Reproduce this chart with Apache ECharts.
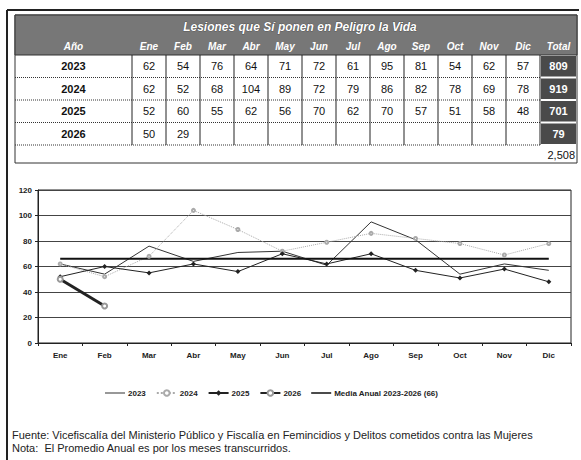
<!DOCTYPE html>
<html>
<head>
<meta charset="utf-8">
<script src="https://cdn.jsdelivr.net/npm/echarts@6/dist/echarts.min.js"></script>
<style>
html,body{margin:0;padding:0;background:#fff;}
#chart{width:581px;height:460px;}
</style>
</head>
<body>
<div id="chart"></div>
<script>
// ---- data ----
const tableTitle = 'Lesiones que Sí ponen en Peligro la Vida';
const yearHeader = 'Año';
const totalHeader = 'Total';
const months = ['Ene','Feb','Mar','Abr','May','Jun','Jul','Ago','Sep','Oct','Nov','Dic'];
const years = ['2023','2024','2025','2026'];
const s2023 = [62,54,76,64,71,72,61,95,81,54,62,57];
const s2024 = [62,52,68,104,89,72,79,86,82,78,69,78];
const s2025 = [52,60,55,62,56,70,62,70,57,51,58,48];
const s2026 = [50,29,null,null,null,null,null,null,null,null,null,null];
const totals = ['809','919','701','79'];
const grandTotal = '2,508';
const avgName = 'Media Anual 2023-2026 (66)';
const avgValues = [66,66,66,66,66,66,66,66,66,66,66,66];
const yMin = 0, yMax = 120, yStep = 20;
const sourceText = 'Fuente: Vicefiscalía del Ministerio Público y Fiscalía en Femincidios y Delitos cometidos contra las Mujeres';
const noteText = 'Nota:  El Promedio Anual es por los meses transcurridos.';

// ---- layout ----
const FONT = '"Liberation Sans", Arial, sans-serif';
const T = {x0:15, x1:577, yearW:117, colW:34, titleY:15, titleH:22, headY:37, headH:18, rowY:55, rowH:22.5, bottom:163};
const rows = [s2023, s2024, s2025, s2026];
const g = [];
const lineIcon = 'path://M0,0L30,0L30,0.01L0,0.01Z M0,4.4L30,4.4L30,5.6L0,5.6Z M0,9.99L30,9.99L30,10L0,10Z';
const thickIcon = 'path://M0,0L30,0L30,0.01L0,0.01Z M0,4L30,4L30,6L0,6Z M0,9.99L30,9.99L30,10L0,10Z';

// outer frame
g.push({type:'line', shape:{x1:7,y1:10,x2:7,y2:460}, style:{stroke:'#222',lineWidth:2}});
g.push({type:'line', shape:{x1:7,y1:10,x2:579,y2:10}, style:{stroke:'#222',lineWidth:2}});
// table frame
g.push({type:'rect', shape:{x:T.x0,y:T.titleY,width:T.x1-T.x0,height:T.bottom-T.titleY}, style:{fill:'#fff',stroke:'#333',lineWidth:1}});
// title + header band
g.push({type:'rect', shape:{x:T.x0,y:T.titleY,width:T.x1-T.x0,height:T.titleH+T.headH}, style:{fill:'#777',stroke:'#333',lineWidth:1}});
g.push({type:'text', style:{text:tableTitle, x:300, y:T.titleY+T.titleH/2+1, align:'center', verticalAlign:'middle', font:'italic bold 12px '+FONT, fill:'#fff', stroke:'#333', lineWidth:0.6}});
const colStart = T.x0 + T.yearW;
const totalX = colStart + 12*T.colW;
const hy = T.headY + T.headH/2;
g.push({type:'text', style:{text:yearHeader, x:T.x0+T.yearW/2, y:hy, align:'center', verticalAlign:'middle', font:'italic bold 10px '+FONT, fill:'#fff'}});
months.forEach((m,i)=>{
  g.push({type:'text', style:{text:m, x:colStart+i*T.colW+T.colW/2, y:hy, align:'center', verticalAlign:'middle', font:'italic bold 10px '+FONT, fill:'#fff'}});
});
g.push({type:'text', style:{text:totalHeader, x:(totalX+T.x1)/2, y:hy, align:'center', verticalAlign:'middle', font:'italic bold 10px '+FONT, fill:'#fff'}});
// rows
rows.forEach((vals,r)=>{
  const y = T.rowY + r*T.rowH;
  const cy = y + T.rowH/2;
  g.push({type:'line', shape:{x1:T.x0,y1:y+T.rowH,x2:totalX,y2:y+T.rowH}, style:{stroke:'#333',lineWidth:1,lineDash:[1,1]}});
  g.push({type:'text', style:{text:years[r], x:T.x0+T.yearW/2, y:cy, align:'center', verticalAlign:'middle', font:'bold 11px '+FONT, fill:'#111'}});
  for(let i=0;i<=12;i++){
    const x = colStart+i*T.colW;
    g.push({type:'line', shape:{x1:x,y1:y,x2:x,y2:y+T.rowH}, style:{stroke:'#222',lineWidth:1}});
  }
  vals.forEach((v,i)=>{
    if(v===null) return;
    g.push({type:'text', style:{text:String(v), x:colStart+i*T.colW+T.colW/2, y:cy, align:'center', verticalAlign:'middle', font:'11px '+FONT, fill:'#111'}});
  });
  g.push({type:'rect', shape:{x:totalX+1,y:y+1,width:T.x1-totalX-2,height:T.rowH-2}, style:{fill:'#4a4a4a'}});
  g.push({type:'text', style:{text:totals[r], x:(totalX+T.x1)/2, y:cy, align:'center', verticalAlign:'middle', font:'bold 11px '+FONT, fill:'#fff'}});
});
// grand total
g.push({type:'text', style:{text:grandTotal, x:T.x1-2, y:(T.rowY+4*T.rowH+T.bottom)/2+1, align:'right', verticalAlign:'middle', font:'11px '+FONT, fill:'#111'}});
// footnotes
g.push({type:'text', style:{text:sourceText, x:12, y:435, align:'left', verticalAlign:'middle', font:'11px '+FONT, fill:'#222'}});
g.push({type:'text', style:{text:noteText, x:12, y:448, align:'left', verticalAlign:'middle', font:'11px '+FONT, fill:'#222'}});

const chart = echarts.init(document.getElementById('chart'), null, {renderer:'svg'});
chart.setOption({
  animation:false,
  backgroundColor:'#fff',
  grid:{left:38, right:10, top:190, bottom:117, show:true, borderColor:'#222', borderWidth:1, containLabel:false},
  xAxis:{type:'category', data:months, boundaryGap:true,
    axisLine:{lineStyle:{color:'#222'}},
    axisTick:{show:true, length:3, lineStyle:{color:'#222'}},
    axisLabel:{color:'#222', fontSize:8, fontWeight:'bold', fontFamily:FONT, margin:8}},
  yAxis:{type:'value', min:yMin, max:yMax, interval:yStep,
    axisLine:{show:true, lineStyle:{color:'#222'}},
    axisTick:{show:true, length:3, lineStyle:{color:'#222'}},
    axisLabel:{color:'#222', fontSize:8, fontWeight:'bold', fontFamily:FONT, margin:6},
    splitLine:{lineStyle:{color:'#444', width:1}}},
  legend:{top:384, left:100, itemGap:10, itemWidth:20, itemHeight:7,
    textStyle:{color:'#222', fontSize:8, fontWeight:'bold', fontFamily:FONT, padding:[0,0,0,-2]},
    data:[{name:'2023', icon:lineIcon, itemStyle:{color:'#333'}},'2024','2025','2026',{name:avgName, icon:thickIcon, itemStyle:{color:'#111'}}]},
  series:[
    {name:'2023', type:'line', data:s2023, symbol:'none', lineStyle:{color:'#333', width:1}, itemStyle:{color:'#333'}},
    {name:'2024', type:'line', data:s2024, symbol:'emptyCircle', symbolSize:3, lineStyle:{color:'#aaa', width:1, type:'dotted'}, itemStyle:{color:'#aaa'}},
    {name:'2025', type:'line', data:s2025, symbol:'diamond', symbolSize:5, lineStyle:{color:'#222', width:1}, itemStyle:{color:'#222'}},
    {name:'2026', type:'line', data:s2026, symbol:'emptyCircle', symbolSize:5, lineStyle:{color:'#222', width:3}, itemStyle:{color:'#999', borderColor:'#999'}},
    {name:avgName, type:'line', data:avgValues, symbol:'none', lineStyle:{color:'#111', width:2}, itemStyle:{color:'#111'}}
  ],
  graphic:g
});
</script>
</body>
</html>
